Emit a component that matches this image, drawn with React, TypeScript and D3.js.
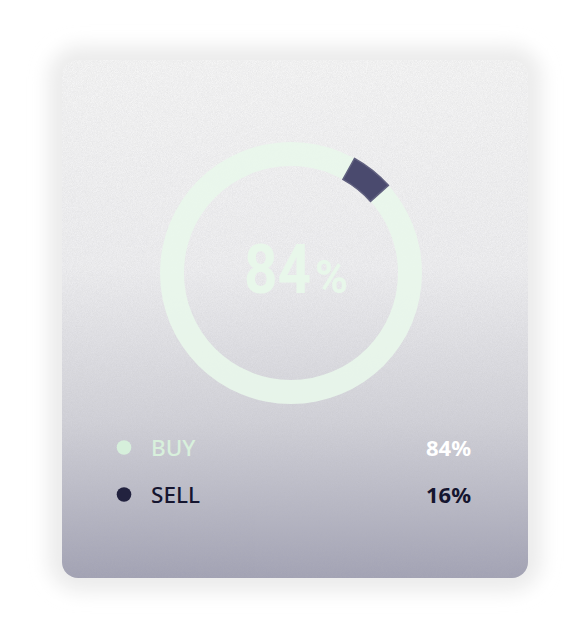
import React, { useEffect, useRef } from 'react';
import * as d3 from 'd3';

const categories = ['BUY', 'SELL'];
const values = [84, 16];
const colors = ['#d6efdb', '#22223f'];
const labelColors = ['#d8f0dc', '#15152f'];
const valueColors = ['#ffffff', '#15152f'];
// visible sell arc (degrees from 12 o'clock, clockwise) as seen in the picture
const sellArcDegrees = [29, 48];

const W = 588;
const H = 638;

export default function App() {
  const svgRef = useRef<SVGSVGElement>(null);

  useEffect(() => {
    if (!svgRef.current) return;
    const svg = d3.select(svgRef.current);
    svg.selectAll('*').remove();
    svg.attr('width', W).attr('height', H);

    const card = { x: 62, y: 60, w: 466, h: 518, r: 16 };

    const defs = svg.append('defs');
    const grad = defs
      .append('linearGradient')
      .attr('id', 'card-bg')
      .attr('x1', 0)
      .attr('x2', 0)
      .attr('y1', 0)
      .attr('y2', 1);
    [
      ['0%', '#f5f5f5'],
      ['40%', '#eeeef0'],
      ['70%', '#d1d1d8'],
      ['100%', '#a2a2b4'],
    ].forEach(([o, c]) => grad.append('stop').attr('offset', o).attr('stop-color', c));

    defs
      .append('filter')
      .attr('id', 'shadow')
      .attr('x', '-30%')
      .attr('y', '-30%')
      .attr('width', '160%')
      .attr('height', '160%')
      .append('feGaussianBlur')
      .attr('stdDeviation', 9);

    const noise = defs.append('filter').attr('id', 'noise');
    noise
      .append('feTurbulence')
      .attr('type', 'fractalNoise')
      .attr('baseFrequency', 1.2)
      .attr('numOctaves', 2)
      .attr('seed', 3)
      .attr('result', 't');
    noise
      .append('feColorMatrix')
      .attr('type', 'matrix')
      .attr('values', '0 0 0 0 0.45  0 0 0 0 0.45  0 0 0 0 0.47  -0.6 0 0 0 0.45');

    defs
      .append('clipPath')
      .attr('id', 'card-clip')
      .append('rect')
      .attr('x', card.x)
      .attr('y', card.y)
      .attr('width', card.w)
      .attr('height', card.h)
      .attr('rx', card.r);

    // soft shadow around the card
    svg
      .append('rect')
      .attr('x', card.x - 14)
      .attr('y', card.y - 14)
      .attr('width', card.w + 28)
      .attr('height', card.h + 28)
      .attr('rx', card.r + 16)
      .attr('fill', '#ececec')
      .attr('filter', 'url(#shadow)');

    svg
      .append('rect')
      .attr('x', card.x)
      .attr('y', card.y)
      .attr('width', card.w)
      .attr('height', card.h)
      .attr('rx', card.r)
      .attr('fill', 'url(#card-bg)');

    svg
      .append('rect')
      .attr('x', card.x)
      .attr('y', card.y)
      .attr('width', card.w)
      .attr('height', card.h)
      .attr('clip-path', 'url(#card-clip)')
      .attr('filter', 'url(#noise)')
      .attr('opacity', 0.5);

    // donut
    const cx = 291;
    const cy = 273;
    const outer = 131;
    const inner = 107;
    const deg = d3.scaleLinear().domain([0, 360]).range([0, 2 * Math.PI]);
    const arc = d3.arc<any>().innerRadius(inner).outerRadius(outer);
    const g = svg.append('g').attr('transform', `translate(${cx},${cy})`);

    g.append('path')
      .attr('d', arc({ startAngle: 0, endAngle: deg(360) }) as string)
      .attr('fill', '#e9f7eb')
      .attr('opacity', 0.9);

    g.append('path')
      .attr('d', arc({ startAngle: deg(sellArcDegrees[0]), endAngle: deg(sellArcDegrees[1]) }) as string)
      .attr('fill', '#4a4a6e')
      .attr('stroke', '#60607f')
      .attr('stroke-width', 1.5);

    g.append('text')
      .attr('transform', 'translate(-47,20) scale(0.86,1)')
      .attr('font-family', 'Roboto, sans-serif')
      .attr('font-weight', 700)
      .attr('font-size', 68)
      .attr('fill', '#e8f7ea')
      .text(String(values[0]));
    g.append('text')
      .attr('transform', 'translate(24,20) scale(0.95,1)')
      .attr('font-family', 'Roboto, sans-serif')
      .attr('font-weight', 700)
      .attr('font-size', 47)
      .attr('fill', '#e8f7ea')
      .text('%');

    // legend
    const rowY = d3.scaleBand().domain(categories).range([424, 518]);
    const legend = svg
      .append('g')
      .selectAll('g')
      .data(categories)
      .enter()
      .append('g')
      .attr('transform', (d) => `translate(0,${(rowY(d) || 0) + rowY.bandwidth() / 2})`);

    legend
      .append('circle')
      .attr('cx', 124)
      .attr('cy', 0)
      .attr('r', 7.3)
      .attr('fill', (_, i) => colors[i]);

    legend
      .append('text')
      .attr('x', 151)
      .attr('y', 8)
      .attr('font-family', '"Noto Sans", sans-serif')
      .attr('font-weight', 500)
      .attr('font-size', 22.5)
      .attr('fill', (_, i) => labelColors[i])
      .text((d) => d);

    legend
      .append('text')
      .attr('x', 471)
      .attr('y', 8.5)
      .attr('text-anchor', 'end')
      .attr('font-family', '"Noto Sans", sans-serif')
      .attr('font-weight', 700)
      .attr('font-size', 22)
      .attr('fill', (_, i) => valueColors[i])
      .text((_, i) => `${values[i]}%`);
  }, []);

  return (
    <div style={{ position: 'absolute', left: 0, top: 0 }}>
      <svg ref={svgRef} />
    </div>
  );
}
